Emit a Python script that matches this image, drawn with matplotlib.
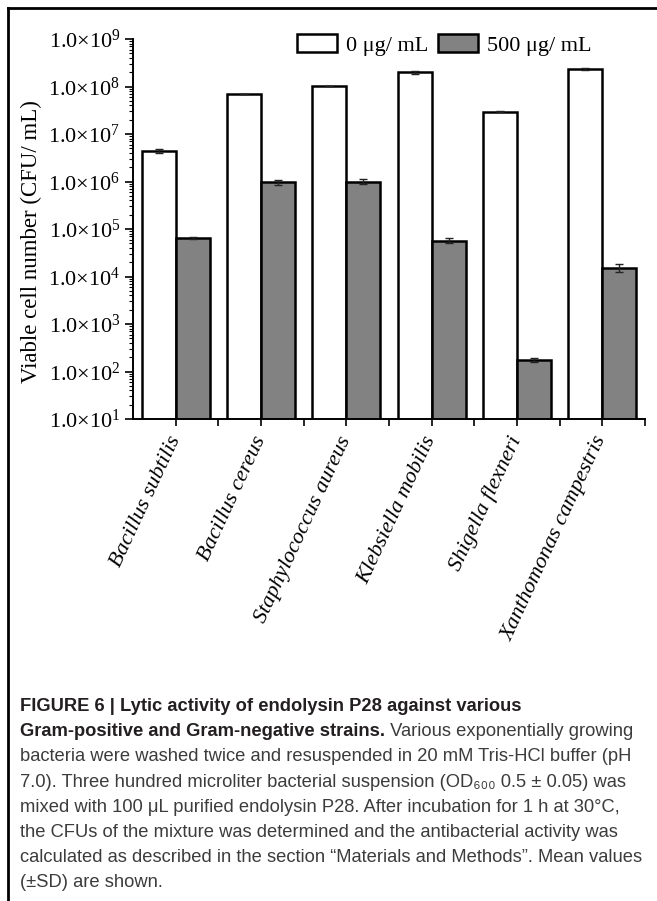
import matplotlib
matplotlib.use("Agg")
import matplotlib.pyplot as plt
from matplotlib.lines import Line2D
from matplotlib.ticker import FixedLocator, LogLocator, NullFormatter
import numpy as np

strains = ["Bacillus subtilis", "Bacillus cereus", "Staphylococcus aureus",
           "Klebsiella mobilis", "Shigella flexneri", "Xanthomonas campestris"]
control = [4.45e6, 6.9e7, 1.02e8, 2.0e8, 2.95e7, 2.33e8]
control_sd = [4.5e5, 0, 0, 1.5e7, 1.0e6, 7.0e6]
treated = [6.5e4, 9.6e5, 1.0e6, 5.7e4, 175, 1.53e4]
treated_sd = [3.0e3, 1.1e5, 1.3e5, 6.5e3, 15, 3.0e3]
series_labels = ["0 \u03bcg/ mL", "500 \u03bcg/ mL"]
y_ticks = [1e1, 1e2, 1e3, 1e4, 1e5, 1e6, 1e7, 1e8, 1e9]

caption_bold_1 = "FIGURE 6 | Lytic activity of endolysin P28 against various"
caption_bold_2 = "Gram-positive and Gram-negative strains."
caption_rest_2 = " Various exponentially growing"
caption_lines = [
    "bacteria were washed twice and resuspended in 20 mM Tris-HCl buffer (pH",
    "7.0). Three hundred microliter bacterial suspension (OD\u2086\u2080\u2080 0.5 \u00b1 0.05) was",
    "mixed with 100 \u03bcL purified endolysin P28. After incubation for 1 h at 30\u00b0C,",
    "the CFUs of the mixture was determined and the antibacterial activity was",
    "calculated as described in the section \u201cMaterials and Methods\u201d. Mean values",
    "(\u00b1SD) are shown.",
]

W, H = 657, 901
serif = ["Liberation Serif", "DejaVu Serif"]
sans = ["Liberation Sans", "DejaVu Sans"]

fig = plt.figure(figsize=(W / 100, H / 100), dpi=100)
ax = fig.add_axes([133 / W, 1 - 419 / H, (645 - 133) / W, (419 - 39) / H])

x = np.arange(len(strains))
bw = 0.4
ax.bar(x - bw / 2, control, bw, color="white", edgecolor="black", linewidth=1.8,
       label=series_labels[0], zorder=2)
ax.bar(x + bw / 2, treated, bw, color="#828282", edgecolor="black", linewidth=1.8,
       label=series_labels[1], zorder=2)
ax.errorbar(x - bw / 2, control, yerr=control_sd, fmt="none", ecolor="#222222",
            elinewidth=1.0, capsize=3, capthick=1.0, zorder=3)
ax.errorbar(x + bw / 2, treated, yerr=treated_sd, fmt="none", ecolor="#222222",
            elinewidth=1.0, capsize=3, capthick=1.0, zorder=3)

ax.set_yscale("log")
ax.set_ylim(1e1, 1e9)
ax.set_xlim(-0.5, len(strains) - 0.5)
ax.set_yticks(y_ticks)
ax.set_yticklabels([r"$\mathregular{1.0{\times}10^{%d}}$" % int(np.log10(v)) for v in y_ticks],
                   family=serif, fontsize=16)
ax.yaxis.set_minor_locator(LogLocator(base=10, subs=np.arange(2, 10)))
ax.yaxis.set_minor_formatter(NullFormatter())
ax.tick_params(axis="y", which="major", length=6, width=1.2, pad=3)
ax.tick_params(axis="y", which="minor", length=3, width=0.8)

ax.set_xticks(x)
ax.set_xticklabels(strains, family=serif, style="italic", fontsize=16,
                   rotation=65, ha="right", va="center", rotation_mode="anchor")
# short ticks between the strain groups
ax.xaxis.set_minor_locator(FixedLocator(x + 0.5))
ax.tick_params(axis="x", which="major", length=5, width=1.2, pad=8)
ax.tick_params(axis="x", which="minor", length=5, width=1.2)

for side in ("top", "right"):
    ax.spines[side].set_visible(False)
for side in ("left", "bottom"):
    ax.spines[side].set_linewidth(1.4)

ax.legend(loc="upper left", bbox_to_anchor=(297 / W, 1 - 34 / H),
          bbox_transform=fig.transFigure, ncol=2, frameon=False,
          prop={"family": serif, "size": 16}, handlelength=1.8,
          handleheight=0.86, handletextpad=0.4, columnspacing=0.45,
          borderpad=0, borderaxespad=0)

fig.text(31 / W, 1 - 242 / H, "Viable cell number (CFU/ mL)", family=serif,
         fontsize=16.5, rotation=90, ha="center", va="center")

# outer frame of the figure panel (left and top edges)
fig.add_artist(Line2D([8 / W, 8 / W], [0, 1 - 8 / H], transform=fig.transFigure,
                      color="black", linewidth=2))
fig.add_artist(Line2D([8 / W, 1], [1 - 8 / H, 1 - 8 / H], transform=fig.transFigure,
                      color="black", linewidth=2))

# caption block
cap_x = 20 / W
base = 711
step = 25.2
cap_size = 13.2
fig.text(cap_x, 1 - base / H, caption_bold_1, family=sans, fontsize=cap_size,
         weight="bold", color="#231f20", va="baseline")
t2 = fig.text(cap_x, 1 - (base + step) / H, caption_bold_2, family=sans,
              fontsize=cap_size, weight="bold", color="#231f20", va="baseline")
renderer = fig.canvas.get_renderer()
bb = t2.get_window_extent(renderer=renderer)
fig.text(bb.x1 / W, 1 - (base + step) / H, caption_rest_2, family=sans,
         fontsize=cap_size, color="#3c3c3c", va="baseline")
for i, line in enumerate(caption_lines):
    fig.text(cap_x, 1 - (base + step * (i + 2)) / H, line, family=sans,
             fontsize=cap_size, color="#3c3c3c", va="baseline")

fig.savefig("out.png", dpi=100)
